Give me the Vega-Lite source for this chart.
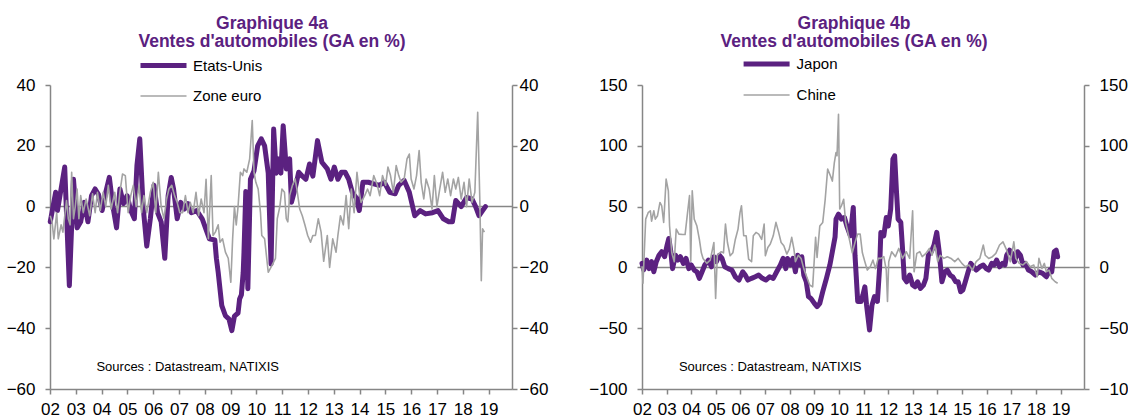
{
"$schema": "https://vega.github.io/schema/vega-lite/v6.json",
"padding": {"left": 6, "top": 15, "right": 0, "bottom": 0},
"bounds": "flush",
"spacing": 130,
"resolve": {"scale": {"color": "independent", "strokeWidth": "independent"}},
"datasets": {
"us": [
{"annee":2002.01,"valeur":-5,"serie":"Etats-Unis"},{"annee":2002.22,"valeur":4.7,"serie":"Etats-Unis"},{"annee":2002.29,"valeur":-1.3,"serie":"Etats-Unis"},{"annee":2002.57,"valeur":13,"serie":"Etats-Unis"},{"annee":2002.75,"valeur":-26,"serie":"Etats-Unis"},{"annee":2002.91,"valeur":9,"serie":"Etats-Unis"},{"annee":2003.05,"valeur":-7,"serie":"Etats-Unis"},{"annee":2003.19,"valeur":-5,"serie":"Etats-Unis"},{"annee":2003.33,"valeur":1.4,"serie":"Etats-Unis"},{"annee":2003.47,"valeur":-5,"serie":"Etats-Unis"},{"annee":2003.61,"valeur":3.6,"serie":"Etats-Unis"},{"annee":2003.75,"valeur":5.8,"serie":"Etats-Unis"},{"annee":2003.88,"valeur":4,"serie":"Etats-Unis"},{"annee":2004.02,"valeur":-1.3,"serie":"Etats-Unis"},{"annee":2004.16,"valeur":4.7,"serie":"Etats-Unis"},{"annee":2004.30,"valeur":9.6,"serie":"Etats-Unis"},{"annee":2004.44,"valeur":0,"serie":"Etats-Unis"},{"annee":2004.58,"valeur":-7,"serie":"Etats-Unis"},{"annee":2004.71,"valeur":5.8,"serie":"Etats-Unis"},{"annee":2004.85,"valeur":1,"serie":"Etats-Unis"},{"annee":2004.99,"valeur":3.6,"serie":"Etats-Unis"},{"annee":2005.13,"valeur":-1.3,"serie":"Etats-Unis"},{"annee":2005.27,"valeur":-4,"serie":"Etats-Unis"},{"annee":2005.37,"valeur":13.5,"serie":"Etats-Unis"},{"annee":2005.48,"valeur":22.3,"serie":"Etats-Unis"},{"annee":2005.61,"valeur":0,"serie":"Etats-Unis"},{"annee":2005.75,"valeur":-13,"serie":"Etats-Unis"},{"annee":2005.89,"valeur":-4,"serie":"Etats-Unis"},{"annee":2006.03,"valeur":7,"serie":"Etats-Unis"},{"annee":2006.17,"valeur":-2,"serie":"Etats-Unis"},{"annee":2006.31,"valeur":-5,"serie":"Etats-Unis"},{"annee":2006.45,"valeur":-17,"serie":"Etats-Unis"},{"annee":2006.58,"valeur":3.6,"serie":"Etats-Unis"},{"annee":2006.70,"valeur":9.6,"serie":"Etats-Unis"},{"annee":2006.79,"valeur":5.8,"serie":"Etats-Unis"},{"annee":2006.93,"valeur":-4,"serie":"Etats-Unis"},{"annee":2007.07,"valeur":1.4,"serie":"Etats-Unis"},{"annee":2007.21,"valeur":-0.8,"serie":"Etats-Unis"},{"annee":2007.35,"valeur":1,"serie":"Etats-Unis"},{"annee":2007.48,"valeur":-2,"serie":"Etats-Unis"},{"annee":2007.69,"valeur":-1.3,"serie":"Etats-Unis"},{"annee":2007.90,"valeur":-4,"serie":"Etats-Unis"},{"annee":2008.04,"valeur":-7.3,"serie":"Etats-Unis"},{"annee":2008.18,"valeur":-10.6,"serie":"Etats-Unis"},{"annee":2008.39,"valeur":-11,"serie":"Etats-Unis"},{"annee":2008.45,"valeur":-17,"serie":"Etats-Unis"},{"annee":2008.52,"valeur":-21.6,"serie":"Etats-Unis"},{"annee":2008.66,"valeur":-32.6,"serie":"Etats-Unis"},{"annee":2008.80,"valeur":-35.9,"serie":"Etats-Unis"},{"annee":2008.94,"valeur":-37,"serie":"Etats-Unis"},{"annee":2009.05,"valeur":-40.8,"serie":"Etats-Unis"},{"annee":2009.15,"valeur":-36,"serie":"Etats-Unis"},{"annee":2009.29,"valeur":-35,"serie":"Etats-Unis"},{"annee":2009.35,"valeur":-30.4,"serie":"Etats-Unis"},{"annee":2009.42,"valeur":-29,"serie":"Etats-Unis"},{"annee":2009.49,"valeur":-21.6,"serie":"Etats-Unis"},{"annee":2009.52,"valeur":-15,"serie":"Etats-Unis"},{"annee":2009.59,"valeur":5,"serie":"Etats-Unis"},{"annee":2009.67,"valeur":-27,"serie":"Etats-Unis"},{"annee":2009.77,"valeur":9,"serie":"Etats-Unis"},{"annee":2009.91,"valeur":11.8,"serie":"Etats-Unis"},{"annee":2010.05,"valeur":20,"serie":"Etats-Unis"},{"annee":2010.19,"valeur":22.3,"serie":"Etats-Unis"},{"annee":2010.32,"valeur":20,"serie":"Etats-Unis"},{"annee":2010.46,"valeur":11,"serie":"Etats-Unis"},{"annee":2010.57,"valeur":-18.9,"serie":"Etats-Unis"},{"annee":2010.67,"valeur":25.5,"serie":"Etats-Unis"},{"annee":2010.77,"valeur":11,"serie":"Etats-Unis"},{"annee":2010.85,"valeur":15.7,"serie":"Etats-Unis"},{"annee":2010.95,"valeur":11,"serie":"Etats-Unis"},{"annee":2011.04,"valeur":26.6,"serie":"Etats-Unis"},{"annee":2011.16,"valeur":12.4,"serie":"Etats-Unis"},{"annee":2011.29,"valeur":15.7,"serie":"Etats-Unis"},{"annee":2011.36,"valeur":1.4,"serie":"Etats-Unis"},{"annee":2011.50,"valeur":5.8,"serie":"Etats-Unis"},{"annee":2011.64,"valeur":11.3,"serie":"Etats-Unis"},{"annee":2011.78,"valeur":10,"serie":"Etats-Unis"},{"annee":2011.92,"valeur":9,"serie":"Etats-Unis"},{"annee":2012.06,"valeur":14,"serie":"Etats-Unis"},{"annee":2012.19,"valeur":10,"serie":"Etats-Unis"},{"annee":2012.37,"valeur":21.7,"serie":"Etats-Unis"},{"annee":2012.54,"valeur":14.6,"serie":"Etats-Unis"},{"annee":2012.75,"valeur":12.4,"serie":"Etats-Unis"},{"annee":2012.89,"valeur":9,"serie":"Etats-Unis"},{"annee":2013.02,"valeur":13,"serie":"Etats-Unis"},{"annee":2013.16,"valeur":9,"serie":"Etats-Unis"},{"annee":2013.30,"valeur":11.3,"serie":"Etats-Unis"},{"annee":2013.44,"valeur":11.3,"serie":"Etats-Unis"},{"annee":2013.58,"valeur":9,"serie":"Etats-Unis"},{"annee":2013.72,"valeur":4.7,"serie":"Etats-Unis"},{"annee":2013.86,"valeur":3,"serie":"Etats-Unis"},{"annee":2013.99,"valeur":-1.3,"serie":"Etats-Unis"},{"annee":2014.13,"valeur":8,"serie":"Etats-Unis"},{"annee":2014.34,"valeur":8,"serie":"Etats-Unis"},{"annee":2014.55,"valeur":7.5,"serie":"Etats-Unis"},{"annee":2014.76,"valeur":7,"serie":"Etats-Unis"},{"annee":2014.96,"valeur":8,"serie":"Etats-Unis"},{"annee":2015.17,"valeur":4.7,"serie":"Etats-Unis"},{"annee":2015.38,"valeur":4.2,"serie":"Etats-Unis"},{"annee":2015.52,"valeur":7,"serie":"Etats-Unis"},{"annee":2015.73,"valeur":8.6,"serie":"Etats-Unis"},{"annee":2015.93,"valeur":4.7,"serie":"Etats-Unis"},{"annee":2016.14,"valeur":-3,"serie":"Etats-Unis"},{"annee":2016.35,"valeur":-1.3,"serie":"Etats-Unis"},{"annee":2016.56,"valeur":-2.4,"serie":"Etats-Unis"},{"annee":2016.83,"valeur":-2,"serie":"Etats-Unis"},{"annee":2017.04,"valeur":-1.3,"serie":"Etats-Unis"},{"annee":2017.25,"valeur":-4,"serie":"Etats-Unis"},{"annee":2017.46,"valeur":-5,"serie":"Etats-Unis"},{"annee":2017.60,"valeur":-5,"serie":"Etats-Unis"},{"annee":2017.73,"valeur":2,"serie":"Etats-Unis"},{"annee":2017.94,"valeur":0,"serie":"Etats-Unis"},{"annee":2018.15,"valeur":3,"serie":"Etats-Unis"},{"annee":2018.36,"valeur":2.5,"serie":"Etats-Unis"},{"annee":2018.50,"valeur":0,"serie":"Etats-Unis"},{"annee":2018.63,"valeur":-3,"serie":"Etats-Unis"},{"annee":2018.77,"valeur":-1.3,"serie":"Etats-Unis"},{"annee":2018.88,"valeur":0,"serie":"Etats-Unis"}
],
"ze": [
{"annee":2002.01,"valeur":-3,"serie":"Zone euro"},{"annee":2002.08,"valeur":-5,"serie":"Zone euro"},{"annee":2002.15,"valeur":-10.6,"serie":"Zone euro"},{"annee":2002.26,"valeur":-2,"serie":"Zone euro"},{"annee":2002.32,"valeur":-10.6,"serie":"Zone euro"},{"annee":2002.43,"valeur":-6,"serie":"Zone euro"},{"annee":2002.50,"valeur":-8.4,"serie":"Zone euro"},{"annee":2002.64,"valeur":2,"serie":"Zone euro"},{"annee":2002.71,"valeur":-4,"serie":"Zone euro"},{"annee":2002.78,"valeur":-6,"serie":"Zone euro"},{"annee":2002.84,"valeur":11.3,"serie":"Zone euro"},{"annee":2002.91,"valeur":-4,"serie":"Zone euro"},{"annee":2002.98,"valeur":0,"serie":"Zone euro"},{"annee":2003.05,"valeur":5.8,"serie":"Zone euro"},{"annee":2003.12,"valeur":-4,"serie":"Zone euro"},{"annee":2003.19,"valeur":3.6,"serie":"Zone euro"},{"annee":2003.29,"valeur":-2,"serie":"Zone euro"},{"annee":2003.40,"valeur":2.5,"serie":"Zone euro"},{"annee":2003.54,"valeur":-3,"serie":"Zone euro"},{"annee":2003.65,"valeur":4.2,"serie":"Zone euro"},{"annee":2003.75,"valeur":-2,"serie":"Zone euro"},{"annee":2003.84,"valeur":4.7,"serie":"Zone euro"},{"annee":2003.95,"valeur":-1.3,"serie":"Zone euro"},{"annee":2004.06,"valeur":4.7,"serie":"Zone euro"},{"annee":2004.16,"valeur":0,"serie":"Zone euro"},{"annee":2004.26,"valeur":7,"serie":"Zone euro"},{"annee":2004.37,"valeur":-0.8,"serie":"Zone euro"},{"annee":2004.51,"valeur":4.7,"serie":"Zone euro"},{"annee":2004.62,"valeur":-2,"serie":"Zone euro"},{"annee":2004.71,"valeur":4.7,"serie":"Zone euro"},{"annee":2004.81,"valeur":10.7,"serie":"Zone euro"},{"annee":2004.92,"valeur":10.2,"serie":"Zone euro"},{"annee":2005.03,"valeur":-2,"serie":"Zone euro"},{"annee":2005.13,"valeur":3.6,"serie":"Zone euro"},{"annee":2005.23,"valeur":7,"serie":"Zone euro"},{"annee":2005.34,"valeur":0,"serie":"Zone euro"},{"annee":2005.45,"valeur":7,"serie":"Zone euro"},{"annee":2005.55,"valeur":-2,"serie":"Zone euro"},{"annee":2005.64,"valeur":3.6,"serie":"Zone euro"},{"annee":2005.75,"valeur":-2,"serie":"Zone euro"},{"annee":2005.89,"valeur":4.7,"serie":"Zone euro"},{"annee":2006.00,"valeur":8,"serie":"Zone euro"},{"annee":2006.10,"valeur":-2,"serie":"Zone euro"},{"annee":2006.20,"valeur":11.3,"serie":"Zone euro"},{"annee":2006.31,"valeur":0,"serie":"Zone euro"},{"annee":2006.42,"valeur":-4,"serie":"Zone euro"},{"annee":2006.52,"valeur":2.5,"serie":"Zone euro"},{"annee":2006.61,"valeur":5.8,"serie":"Zone euro"},{"annee":2006.72,"valeur":7,"serie":"Zone euro"},{"annee":2006.83,"valeur":3.6,"serie":"Zone euro"},{"annee":2006.93,"valeur":1.4,"serie":"Zone euro"},{"annee":2007.03,"valeur":-2,"serie":"Zone euro"},{"annee":2007.14,"valeur":-2,"serie":"Zone euro"},{"annee":2007.25,"valeur":3.6,"serie":"Zone euro"},{"annee":2007.35,"valeur":-2,"serie":"Zone euro"},{"annee":2007.44,"valeur":1.4,"serie":"Zone euro"},{"annee":2007.55,"valeur":-2,"serie":"Zone euro"},{"annee":2007.66,"valeur":4.7,"serie":"Zone euro"},{"annee":2007.76,"valeur":-3,"serie":"Zone euro"},{"annee":2007.86,"valeur":2.5,"serie":"Zone euro"},{"annee":2007.97,"valeur":-2,"serie":"Zone euro"},{"annee":2008.05,"valeur":9,"serie":"Zone euro"},{"annee":2008.14,"valeur":-10.6,"serie":"Zone euro"},{"annee":2008.25,"valeur":10.2,"serie":"Zone euro"},{"annee":2008.32,"valeur":-9.5,"serie":"Zone euro"},{"annee":2008.41,"valeur":-8.4,"serie":"Zone euro"},{"annee":2008.52,"valeur":-6,"serie":"Zone euro"},{"annee":2008.59,"valeur":-11.7,"serie":"Zone euro"},{"annee":2008.69,"valeur":-10.6,"serie":"Zone euro"},{"annee":2008.80,"valeur":-15,"serie":"Zone euro"},{"annee":2008.91,"valeur":-17,"serie":"Zone euro"},{"annee":2009.01,"valeur":-24.9,"serie":"Zone euro"},{"annee":2009.08,"valeur":-10.6,"serie":"Zone euro"},{"annee":2009.15,"valeur":0,"serie":"Zone euro"},{"annee":2009.22,"valeur":-6,"serie":"Zone euro"},{"annee":2009.29,"valeur":0,"serie":"Zone euro"},{"annee":2009.38,"valeur":11.3,"serie":"Zone euro"},{"annee":2009.47,"valeur":10.2,"serie":"Zone euro"},{"annee":2009.52,"valeur":12.4,"serie":"Zone euro"},{"annee":2009.63,"valeur":11.3,"serie":"Zone euro"},{"annee":2009.74,"valeur":15.7,"serie":"Zone euro"},{"annee":2009.84,"valeur":28.3,"serie":"Zone euro"},{"annee":2009.91,"valeur":11.3,"serie":"Zone euro"},{"annee":2009.98,"valeur":8,"serie":"Zone euro"},{"annee":2010.07,"valeur":5.8,"serie":"Zone euro"},{"annee":2010.16,"valeur":-2,"serie":"Zone euro"},{"annee":2010.21,"valeur":-9.5,"serie":"Zone euro"},{"annee":2010.32,"valeur":-10.6,"serie":"Zone euro"},{"annee":2010.46,"valeur":-21.6,"serie":"Zone euro"},{"annee":2010.60,"valeur":-19.4,"serie":"Zone euro"},{"annee":2010.74,"valeur":-17,"serie":"Zone euro"},{"annee":2010.81,"valeur":-4,"serie":"Zone euro"},{"annee":2010.91,"valeur":0,"serie":"Zone euro"},{"annee":2010.99,"valeur":5.8,"serie":"Zone euro"},{"annee":2011.09,"valeur":4.7,"serie":"Zone euro"},{"annee":2011.16,"valeur":-4,"serie":"Zone euro"},{"annee":2011.22,"valeur":-5,"serie":"Zone euro"},{"annee":2011.29,"valeur":3.6,"serie":"Zone euro"},{"annee":2011.40,"valeur":7,"serie":"Zone euro"},{"annee":2011.50,"valeur":9.1,"serie":"Zone euro"},{"annee":2011.57,"valeur":5.8,"serie":"Zone euro"},{"annee":2011.68,"valeur":-0.8,"serie":"Zone euro"},{"annee":2011.78,"valeur":-3,"serie":"Zone euro"},{"annee":2011.88,"valeur":-6,"serie":"Zone euro"},{"annee":2011.99,"valeur":-9.5,"serie":"Zone euro"},{"annee":2012.10,"valeur":-11.7,"serie":"Zone euro"},{"annee":2012.19,"valeur":-9.5,"serie":"Zone euro"},{"annee":2012.29,"valeur":-9.5,"serie":"Zone euro"},{"annee":2012.40,"valeur":-4,"serie":"Zone euro"},{"annee":2012.51,"valeur":-8.4,"serie":"Zone euro"},{"annee":2012.61,"valeur":-18,"serie":"Zone euro"},{"annee":2012.75,"valeur":-9.5,"serie":"Zone euro"},{"annee":2012.84,"valeur":-20,"serie":"Zone euro"},{"annee":2012.96,"valeur":-10.6,"serie":"Zone euro"},{"annee":2013.09,"valeur":-15,"serie":"Zone euro"},{"annee":2013.16,"valeur":-9.5,"serie":"Zone euro"},{"annee":2013.26,"valeur":-3,"serie":"Zone euro"},{"annee":2013.37,"valeur":-6,"serie":"Zone euro"},{"annee":2013.48,"valeur":3.6,"serie":"Zone euro"},{"annee":2013.58,"valeur":-7.3,"serie":"Zone euro"},{"annee":2013.68,"valeur":5.8,"serie":"Zone euro"},{"annee":2013.79,"valeur":-2,"serie":"Zone euro"},{"annee":2013.90,"valeur":11.3,"serie":"Zone euro"},{"annee":2013.99,"valeur":4.7,"serie":"Zone euro"},{"annee":2014.06,"valeur":1.4,"serie":"Zone euro"},{"annee":2014.20,"valeur":3.6,"serie":"Zone euro"},{"annee":2014.31,"valeur":5.8,"serie":"Zone euro"},{"annee":2014.41,"valeur":3.6,"serie":"Zone euro"},{"annee":2014.55,"valeur":10.2,"serie":"Zone euro"},{"annee":2014.69,"valeur":7,"serie":"Zone euro"},{"annee":2014.78,"valeur":3.6,"serie":"Zone euro"},{"annee":2014.89,"valeur":10.2,"serie":"Zone euro"},{"annee":2015.01,"valeur":7,"serie":"Zone euro"},{"annee":2015.10,"valeur":13,"serie":"Zone euro"},{"annee":2015.20,"valeur":10.2,"serie":"Zone euro"},{"annee":2015.31,"valeur":4.7,"serie":"Zone euro"},{"annee":2015.42,"valeur":13.5,"serie":"Zone euro"},{"annee":2015.52,"valeur":10.2,"serie":"Zone euro"},{"annee":2015.61,"valeur":8,"serie":"Zone euro"},{"annee":2015.73,"valeur":9.1,"serie":"Zone euro"},{"annee":2015.84,"valeur":15.7,"serie":"Zone euro"},{"annee":2015.93,"valeur":17.3,"serie":"Zone euro"},{"annee":2016.00,"valeur":9.1,"serie":"Zone euro"},{"annee":2016.11,"valeur":5.8,"serie":"Zone euro"},{"annee":2016.21,"valeur":10.2,"serie":"Zone euro"},{"annee":2016.31,"valeur":18.4,"serie":"Zone euro"},{"annee":2016.39,"valeur":8,"serie":"Zone euro"},{"annee":2016.49,"valeur":2.5,"serie":"Zone euro"},{"annee":2016.58,"valeur":9.1,"serie":"Zone euro"},{"annee":2016.70,"valeur":5.8,"serie":"Zone euro"},{"annee":2016.81,"valeur":-0.8,"serie":"Zone euro"},{"annee":2016.90,"valeur":10.2,"serie":"Zone euro"},{"annee":2017.00,"valeur":0,"serie":"Zone euro"},{"annee":2017.11,"valeur":5.8,"serie":"Zone euro"},{"annee":2017.22,"valeur":11.3,"serie":"Zone euro"},{"annee":2017.32,"valeur":4.7,"serie":"Zone euro"},{"annee":2017.42,"valeur":9.1,"serie":"Zone euro"},{"annee":2017.53,"valeur":3.6,"serie":"Zone euro"},{"annee":2017.64,"valeur":9.1,"serie":"Zone euro"},{"annee":2017.73,"valeur":5.8,"serie":"Zone euro"},{"annee":2017.83,"valeur":9.6,"serie":"Zone euro"},{"annee":2017.94,"valeur":2.5,"serie":"Zone euro"},{"annee":2018.05,"valeur":8,"serie":"Zone euro"},{"annee":2018.15,"valeur":0,"serie":"Zone euro"},{"annee":2018.25,"valeur":9.1,"serie":"Zone euro"},{"annee":2018.36,"valeur":1.4,"serie":"Zone euro"},{"annee":2018.47,"valeur":4.7,"serie":"Zone euro"},{"annee":2018.58,"valeur":31,"serie":"Zone euro"},{"annee":2018.66,"valeur":3,"serie":"Zone euro"},{"annee":2018.72,"valeur":-24.4,"serie":"Zone euro"},{"annee":2018.77,"valeur":-7.3,"serie":"Zone euro"},{"annee":2018.84,"valeur":-8.4,"serie":"Zone euro"}
],
"jp": [
{"annee":2002.00,"valeur":3.3,"serie":"Japon"},{"annee":2002.07,"valeur":-2,"serie":"Japon"},{"annee":2002.19,"valeur":6,"serie":"Japon"},{"annee":2002.29,"valeur":-1,"serie":"Japon"},{"annee":2002.39,"valeur":4.7,"serie":"Japon"},{"annee":2002.48,"valeur":-3.6,"serie":"Japon"},{"annee":2002.58,"valeur":4.7,"serie":"Japon"},{"annee":2002.69,"valeur":10,"serie":"Japon"},{"annee":2002.80,"valeur":12.9,"serie":"Japon"},{"annee":2002.92,"valeur":8.8,"serie":"Japon"},{"annee":2003.02,"valeur":18.4,"serie":"Japon"},{"annee":2003.09,"valeur":23.8,"serie":"Japon"},{"annee":2003.17,"valeur":12.9,"serie":"Japon"},{"annee":2003.24,"valeur":-1,"serie":"Japon"},{"annee":2003.36,"valeur":10,"serie":"Japon"},{"annee":2003.46,"valeur":6,"serie":"Japon"},{"annee":2003.56,"valeur":8.8,"serie":"Japon"},{"annee":2003.68,"valeur":3.3,"serie":"Japon"},{"annee":2003.79,"valeur":7.4,"serie":"Japon"},{"annee":2003.90,"valeur":-1,"serie":"Japon"},{"annee":2004.00,"valeur":2,"serie":"Japon"},{"annee":2004.12,"valeur":-2.2,"serie":"Japon"},{"annee":2004.23,"valeur":-3.6,"serie":"Japon"},{"annee":2004.33,"valeur":-9,"serie":"Japon"},{"annee":2004.44,"valeur":-3.6,"serie":"Japon"},{"annee":2004.55,"valeur":2,"serie":"Japon"},{"annee":2004.70,"valeur":6,"serie":"Japon"},{"annee":2004.82,"valeur":0.5,"serie":"Japon"},{"annee":2004.92,"valeur":8.8,"serie":"Japon"},{"annee":2005.02,"valeur":4.7,"serie":"Japon"},{"annee":2005.14,"valeur":10,"serie":"Japon"},{"annee":2005.25,"valeur":7.4,"serie":"Japon"},{"annee":2005.36,"valeur":0.5,"serie":"Japon"},{"annee":2005.50,"valeur":-1,"serie":"Japon"},{"annee":2005.65,"valeur":-2.2,"serie":"Japon"},{"annee":2005.79,"valeur":-7.7,"serie":"Japon"},{"annee":2005.94,"valeur":-10.4,"serie":"Japon"},{"annee":2006.09,"valeur":-3.6,"serie":"Japon"},{"annee":2006.19,"valeur":-6.3,"serie":"Japon"},{"annee":2006.30,"valeur":-10.4,"serie":"Japon"},{"annee":2006.45,"valeur":-9,"serie":"Japon"},{"annee":2006.60,"valeur":-7.7,"serie":"Japon"},{"annee":2006.74,"valeur":-6.3,"serie":"Japon"},{"annee":2006.89,"valeur":-9,"serie":"Japon"},{"annee":2007.03,"valeur":-10.4,"serie":"Japon"},{"annee":2007.18,"valeur":-7.7,"serie":"Japon"},{"annee":2007.33,"valeur":-9,"serie":"Japon"},{"annee":2007.47,"valeur":-3.6,"serie":"Japon"},{"annee":2007.62,"valeur":2,"serie":"Japon"},{"annee":2007.73,"valeur":7.4,"serie":"Japon"},{"annee":2007.84,"valeur":-1,"serie":"Japon"},{"annee":2007.91,"valeur":7.4,"serie":"Japon"},{"annee":2008.03,"valeur":2,"serie":"Japon"},{"annee":2008.13,"valeur":7.4,"serie":"Japon"},{"annee":2008.23,"valeur":-3.6,"serie":"Japon"},{"annee":2008.32,"valeur":10,"serie":"Japon"},{"annee":2008.42,"valeur":2,"serie":"Japon"},{"annee":2008.49,"valeur":8.8,"serie":"Japon"},{"annee":2008.57,"valeur":-6.3,"serie":"Japon"},{"annee":2008.67,"valeur":-11.8,"serie":"Japon"},{"annee":2008.76,"valeur":-24,"serie":"Japon"},{"annee":2008.86,"valeur":-25.5,"serie":"Japon"},{"annee":2009.00,"valeur":-29.6,"serie":"Japon"},{"annee":2009.11,"valeur":-32.3,"serie":"Japon"},{"annee":2009.22,"valeur":-29.6,"serie":"Japon"},{"annee":2009.34,"valeur":-20,"serie":"Japon"},{"annee":2009.49,"valeur":-9,"serie":"Japon"},{"annee":2009.63,"valeur":2,"serie":"Japon"},{"annee":2009.73,"valeur":12.9,"serie":"Japon"},{"annee":2009.84,"valeur":25,"serie":"Japon"},{"annee":2009.88,"valeur":39.7,"serie":"Japon"},{"annee":2009.98,"valeur":43.8,"serie":"Japon"},{"annee":2010.10,"valeur":39.7,"serie":"Japon"},{"annee":2010.22,"valeur":41,"serie":"Japon"},{"annee":2010.32,"valeur":34,"serie":"Japon"},{"annee":2010.46,"valeur":26,"serie":"Japon"},{"annee":2010.58,"valeur":49.3,"serie":"Japon"},{"annee":2010.65,"valeur":10,"serie":"Japon"},{"annee":2010.76,"valeur":-28,"serie":"Japon"},{"annee":2010.90,"valeur":-28,"serie":"Japon"},{"annee":2010.97,"valeur":-22.7,"serie":"Japon"},{"annee":2011.05,"valeur":-16,"serie":"Japon"},{"annee":2011.12,"valeur":-31,"serie":"Japon"},{"annee":2011.24,"valeur":-51.5,"serie":"Japon"},{"annee":2011.34,"valeur":-31,"serie":"Japon"},{"annee":2011.44,"valeur":-24,"serie":"Japon"},{"annee":2011.56,"valeur":-28,"serie":"Japon"},{"annee":2011.65,"valeur":0,"serie":"Japon"},{"annee":2011.70,"valeur":28.8,"serie":"Japon"},{"annee":2011.82,"valeur":26,"serie":"Japon"},{"annee":2011.92,"valeur":41,"serie":"Japon"},{"annee":2012.00,"valeur":34,"serie":"Japon"},{"annee":2012.10,"valeur":48,"serie":"Japon"},{"annee":2012.19,"valeur":89,"serie":"Japon"},{"annee":2012.26,"valeur":91.8,"serie":"Japon"},{"annee":2012.33,"valeur":64,"serie":"Japon"},{"annee":2012.40,"valeur":39.7,"serie":"Japon"},{"annee":2012.51,"valeur":37,"serie":"Japon"},{"annee":2012.58,"valeur":15.6,"serie":"Japon"},{"annee":2012.65,"valeur":-9,"serie":"Japon"},{"annee":2012.75,"valeur":-11.8,"serie":"Japon"},{"annee":2012.87,"valeur":-6.3,"serie":"Japon"},{"annee":2012.99,"valeur":-14.5,"serie":"Japon"},{"annee":2013.09,"valeur":-16,"serie":"Japon"},{"annee":2013.19,"valeur":-11.8,"serie":"Japon"},{"annee":2013.31,"valeur":-17.3,"serie":"Japon"},{"annee":2013.43,"valeur":-14.5,"serie":"Japon"},{"annee":2013.53,"valeur":-9,"serie":"Japon"},{"annee":2013.63,"valeur":10,"serie":"Japon"},{"annee":2013.75,"valeur":12.9,"serie":"Japon"},{"annee":2013.86,"valeur":18.4,"serie":"Japon"},{"annee":2013.97,"valeur":28.8,"serie":"Japon"},{"annee":2014.07,"valeur":12.9,"serie":"Japon"},{"annee":2014.18,"valeur":-11.8,"serie":"Japon"},{"annee":2014.30,"valeur":-3.6,"serie":"Japon"},{"annee":2014.40,"valeur":-2.2,"serie":"Japon"},{"annee":2014.51,"valeur":-6.3,"serie":"Japon"},{"annee":2014.62,"valeur":-7.7,"serie":"Japon"},{"annee":2014.74,"valeur":-11.8,"serie":"Japon"},{"annee":2014.84,"valeur":-11.8,"serie":"Japon"},{"annee":2014.94,"valeur":-20,"serie":"Japon"},{"annee":2015.03,"valeur":-18.6,"serie":"Japon"},{"annee":2015.13,"valeur":-11.8,"serie":"Japon"},{"annee":2015.24,"valeur":-4,"serie":"Japon"},{"annee":2015.35,"valeur":3.3,"serie":"Japon"},{"annee":2015.47,"valeur":0.5,"serie":"Japon"},{"annee":2015.57,"valeur":-2.2,"serie":"Japon"},{"annee":2015.72,"valeur":0.5,"serie":"Japon"},{"annee":2015.86,"valeur":2,"serie":"Japon"},{"annee":2015.98,"valeur":-1,"serie":"Japon"},{"annee":2016.08,"valeur":-2.2,"serie":"Japon"},{"annee":2016.20,"valeur":3.3,"serie":"Japon"},{"annee":2016.30,"valeur":2,"serie":"Japon"},{"annee":2016.40,"valeur":6,"serie":"Japon"},{"annee":2016.52,"valeur":0.5,"serie":"Japon"},{"annee":2016.64,"valeur":3.3,"serie":"Japon"},{"annee":2016.74,"valeur":2,"serie":"Japon"},{"annee":2016.81,"valeur":10,"serie":"Japon"},{"annee":2016.93,"valeur":14.2,"serie":"Japon"},{"annee":2017.03,"valeur":11.5,"serie":"Japon"},{"annee":2017.13,"valeur":4.7,"serie":"Japon"},{"annee":2017.25,"valeur":12.9,"serie":"Japon"},{"annee":2017.37,"valeur":10,"serie":"Japon"},{"annee":2017.47,"valeur":2,"serie":"Japon"},{"annee":2017.57,"valeur":3.3,"serie":"Japon"},{"annee":2017.69,"valeur":-2.2,"serie":"Japon"},{"annee":2017.83,"valeur":-3.6,"serie":"Japon"},{"annee":2017.98,"valeur":-6.3,"serie":"Japon"},{"annee":2018.12,"valeur":-3.6,"serie":"Japon"},{"annee":2018.27,"valeur":-4.9,"serie":"Japon"},{"annee":2018.42,"valeur":-7.7,"serie":"Japon"},{"annee":2018.56,"valeur":-2.2,"serie":"Japon"},{"annee":2018.64,"valeur":-3.6,"serie":"Japon"},{"annee":2018.74,"valeur":12.9,"serie":"Japon"},{"annee":2018.82,"valeur":14.2,"serie":"Japon"},{"annee":2018.88,"valeur":8.8,"serie":"Japon"}
],
"cn": [
{"annee":2002.00,"valeur":1,"serie":"Chine"},{"annee":2002.04,"valeur":-13,"serie":"Chine"},{"annee":2002.15,"valeur":39.7,"serie":"Chine"},{"annee":2002.25,"valeur":45,"serie":"Chine"},{"annee":2002.34,"valeur":46.6,"serie":"Chine"},{"annee":2002.39,"valeur":38,"serie":"Chine"},{"annee":2002.48,"valeur":46.6,"serie":"Chine"},{"annee":2002.54,"valeur":39.7,"serie":"Chine"},{"annee":2002.63,"valeur":42.5,"serie":"Chine"},{"annee":2002.73,"valeur":53.4,"serie":"Chine"},{"annee":2002.80,"valeur":50.7,"serie":"Chine"},{"annee":2002.88,"valeur":37,"serie":"Chine"},{"annee":2002.98,"valeur":72.6,"serie":"Chine"},{"annee":2003.07,"valeur":63,"serie":"Chine"},{"annee":2003.12,"valeur":34,"serie":"Chine"},{"annee":2003.21,"valeur":12,"serie":"Chine"},{"annee":2003.31,"valeur":4.7,"serie":"Chine"},{"annee":2003.39,"valeur":31.5,"serie":"Chine"},{"annee":2003.50,"valeur":27.4,"serie":"Chine"},{"annee":2003.65,"valeur":27,"serie":"Chine"},{"annee":2003.75,"valeur":27,"serie":"Chine"},{"annee":2003.85,"valeur":45,"serie":"Chine"},{"annee":2003.93,"valeur":59,"serie":"Chine"},{"annee":2003.98,"valeur":5,"serie":"Chine"},{"annee":2004.04,"valeur":63,"serie":"Chine"},{"annee":2004.12,"valeur":39.7,"serie":"Chine"},{"annee":2004.23,"valeur":34,"serie":"Chine"},{"annee":2004.33,"valeur":23,"serie":"Chine"},{"annee":2004.41,"valeur":12,"serie":"Chine"},{"annee":2004.48,"valeur":7.4,"serie":"Chine"},{"annee":2004.63,"valeur":3.3,"serie":"Chine"},{"annee":2004.77,"valeur":6,"serie":"Chine"},{"annee":2004.92,"valeur":20.5,"serie":"Chine"},{"annee":2004.99,"valeur":-25.5,"serie":"Chine"},{"annee":2005.06,"valeur":10,"serie":"Chine"},{"annee":2005.21,"valeur":12.9,"serie":"Chine"},{"annee":2005.31,"valeur":12,"serie":"Chine"},{"annee":2005.39,"valeur":35.6,"serie":"Chine"},{"annee":2005.47,"valeur":20.5,"serie":"Chine"},{"annee":2005.58,"valeur":9.6,"serie":"Chine"},{"annee":2005.69,"valeur":12,"serie":"Chine"},{"annee":2005.79,"valeur":23,"serie":"Chine"},{"annee":2005.90,"valeur":31.5,"serie":"Chine"},{"annee":2005.98,"valeur":45,"serie":"Chine"},{"annee":2006.04,"valeur":50.7,"serie":"Chine"},{"annee":2006.13,"valeur":26,"serie":"Chine"},{"annee":2006.23,"valeur":26,"serie":"Chine"},{"annee":2006.33,"valeur":6.8,"serie":"Chine"},{"annee":2006.45,"valeur":4.7,"serie":"Chine"},{"annee":2006.52,"valeur":26,"serie":"Chine"},{"annee":2006.63,"valeur":28.8,"serie":"Chine"},{"annee":2006.74,"valeur":27.4,"serie":"Chine"},{"annee":2006.86,"valeur":23,"serie":"Chine"},{"annee":2006.96,"valeur":35.6,"serie":"Chine"},{"annee":2007.01,"valeur":9.6,"serie":"Chine"},{"annee":2007.11,"valeur":16.4,"serie":"Chine"},{"annee":2007.21,"valeur":19.2,"serie":"Chine"},{"annee":2007.33,"valeur":26,"serie":"Chine"},{"annee":2007.44,"valeur":37,"serie":"Chine"},{"annee":2007.55,"valeur":28.8,"serie":"Chine"},{"annee":2007.65,"valeur":20.5,"serie":"Chine"},{"annee":2007.76,"valeur":17.8,"serie":"Chine"},{"annee":2007.88,"valeur":11,"serie":"Chine"},{"annee":2007.98,"valeur":15,"serie":"Chine"},{"annee":2008.08,"valeur":24.7,"serie":"Chine"},{"annee":2008.17,"valeur":15,"serie":"Chine"},{"annee":2008.23,"valeur":4.7,"serie":"Chine"},{"annee":2008.35,"valeur":10,"serie":"Chine"},{"annee":2008.46,"valeur":7.4,"serie":"Chine"},{"annee":2008.57,"valeur":-1,"serie":"Chine"},{"annee":2008.71,"valeur":-9,"serie":"Chine"},{"annee":2008.81,"valeur":-14.5,"serie":"Chine"},{"annee":2008.93,"valeur":-16,"serie":"Chine"},{"annee":2009.05,"valeur":24.7,"serie":"Chine"},{"annee":2009.11,"valeur":8.2,"serie":"Chine"},{"annee":2009.22,"valeur":34,"serie":"Chine"},{"annee":2009.34,"valeur":37,"serie":"Chine"},{"annee":2009.44,"valeur":56,"serie":"Chine"},{"annee":2009.54,"valeur":80.8,"serie":"Chine"},{"annee":2009.66,"valeur":75,"serie":"Chine"},{"annee":2009.73,"valeur":71,"serie":"Chine"},{"annee":2009.81,"valeur":86,"serie":"Chine"},{"annee":2009.88,"valeur":94.5,"serie":"Chine"},{"annee":2009.92,"valeur":91.8,"serie":"Chine"},{"annee":2009.98,"valeur":126,"serie":"Chine"},{"annee":2010.03,"valeur":48,"serie":"Chine"},{"annee":2010.10,"valeur":50.7,"serie":"Chine"},{"annee":2010.19,"valeur":56,"serie":"Chine"},{"annee":2010.27,"valeur":37,"serie":"Chine"},{"annee":2010.39,"valeur":26,"serie":"Chine"},{"annee":2010.54,"valeur":12,"serie":"Chine"},{"annee":2010.65,"valeur":20.5,"serie":"Chine"},{"annee":2010.76,"valeur":27.4,"serie":"Chine"},{"annee":2010.86,"valeur":27.4,"serie":"Chine"},{"annee":2010.95,"valeur":12,"serie":"Chine"},{"annee":2011.05,"valeur":4.7,"serie":"Chine"},{"annee":2011.15,"valeur":-2.2,"serie":"Chine"},{"annee":2011.27,"valeur":0.5,"serie":"Chine"},{"annee":2011.38,"valeur":6,"serie":"Chine"},{"annee":2011.48,"valeur":-1,"serie":"Chine"},{"annee":2011.59,"valeur":7.4,"serie":"Chine"},{"annee":2011.70,"valeur":7.4,"serie":"Chine"},{"annee":2011.82,"valeur":8.8,"serie":"Chine"},{"annee":2011.92,"valeur":-2.2,"serie":"Chine"},{"annee":2011.97,"valeur":-28,"serie":"Chine"},{"annee":2012.02,"valeur":4.7,"serie":"Chine"},{"annee":2012.14,"valeur":12.9,"serie":"Chine"},{"annee":2012.29,"valeur":8.8,"serie":"Chine"},{"annee":2012.43,"valeur":15.6,"serie":"Chine"},{"annee":2012.58,"valeur":7.4,"serie":"Chine"},{"annee":2012.73,"valeur":12.9,"serie":"Chine"},{"annee":2012.87,"valeur":7.4,"serie":"Chine"},{"annee":2012.99,"valeur":46.6,"serie":"Chine"},{"annee":2013.05,"valeur":-3.6,"serie":"Chine"},{"annee":2013.16,"valeur":11.5,"serie":"Chine"},{"annee":2013.28,"valeur":12.9,"serie":"Chine"},{"annee":2013.38,"valeur":8.8,"serie":"Chine"},{"annee":2013.53,"valeur":11.5,"serie":"Chine"},{"annee":2013.67,"valeur":15.6,"serie":"Chine"},{"annee":2013.78,"valeur":10,"serie":"Chine"},{"annee":2013.89,"valeur":18.4,"serie":"Chine"},{"annee":2014.01,"valeur":4.7,"serie":"Chine"},{"annee":2014.11,"valeur":10,"serie":"Chine"},{"annee":2014.26,"valeur":7.4,"serie":"Chine"},{"annee":2014.40,"valeur":8.8,"serie":"Chine"},{"annee":2014.55,"valeur":7.4,"serie":"Chine"},{"annee":2014.70,"valeur":4.7,"serie":"Chine"},{"annee":2014.84,"valeur":7.4,"serie":"Chine"},{"annee":2014.99,"valeur":3.3,"serie":"Chine"},{"annee":2015.13,"valeur":0.5,"serie":"Chine"},{"annee":2015.28,"valeur":2,"serie":"Chine"},{"annee":2015.42,"valeur":-2.2,"serie":"Chine"},{"annee":2015.57,"valeur":4.7,"serie":"Chine"},{"annee":2015.72,"valeur":7.4,"serie":"Chine"},{"annee":2015.86,"valeur":18.4,"serie":"Chine"},{"annee":2015.94,"valeur":10,"serie":"Chine"},{"annee":2016.08,"valeur":7.4,"serie":"Chine"},{"annee":2016.23,"valeur":8.8,"serie":"Chine"},{"annee":2016.37,"valeur":11.5,"serie":"Chine"},{"annee":2016.52,"valeur":18.4,"serie":"Chine"},{"annee":2016.66,"valeur":21,"serie":"Chine"},{"annee":2016.81,"valeur":14.2,"serie":"Chine"},{"annee":2016.96,"valeur":4.7,"serie":"Chine"},{"annee":2017.10,"valeur":21,"serie":"Chine"},{"annee":2017.18,"valeur":7.4,"serie":"Chine"},{"annee":2017.32,"valeur":3.3,"serie":"Chine"},{"annee":2017.47,"valeur":2,"serie":"Chine"},{"annee":2017.61,"valeur":4.7,"serie":"Chine"},{"annee":2017.76,"valeur":0.5,"serie":"Chine"},{"annee":2017.91,"valeur":2,"serie":"Chine"},{"annee":2018.05,"valeur":-7.7,"serie":"Chine"},{"annee":2018.12,"valeur":7.4,"serie":"Chine"},{"annee":2018.24,"valeur":-1,"serie":"Chine"},{"annee":2018.34,"valeur":3.3,"serie":"Chine"},{"annee":2018.42,"valeur":-3.6,"serie":"Chine"},{"annee":2018.53,"valeur":-2.2,"serie":"Chine"},{"annee":2018.64,"valeur":-9,"serie":"Chine"},{"annee":2018.78,"valeur":-11.8,"serie":"Chine"},{"annee":2018.88,"valeur":-13,"serie":"Chine"}
]
},
"hconcat": [
{
"width": 462, "height": 304,
"title": {"text": ["Graphique 4a", "Ventes d'automobiles (GA en %)"], "dx": -9, "offset": 1},
"resolve": {"scale": {"y": "independent"}},
"layer": [
{"data": {"values": [{}]}, "mark": {"type": "rule", "color": "#868686", "strokeWidth": 1.5},
 "encoding": {"y": {"datum": 0, "type": "quantitative", "scale": {"domain": [-60, 40], "nice": false, "zero": false}, "axis": {"orient": "right", "values": [-60, -40, -20, 0, 20, 40], "labelPadding": 2}}}},
{"data": {"name": "us"}, "mark": {"type": "line", "strokeJoin": "round", "strokeCap": "round"},
 "encoding": {
  "x": {"field": "annee", "type": "quantitative", "scale": {"domain": [2002, 2019.91], "nice": false, "zero": false}, "axis": {"values": [2002,2003,2004,2005,2006,2007,2008,2009,2010,2011,2012,2013,2014,2015,2016,2017,2018,2019], "labelExpr": "slice(format(datum.value, 'd'), 2)", "labelFlush": false, "labelOverlap": false, "labelPadding": 7}},
  "y": {"field": "valeur", "type": "quantitative", "scale": {"domain": [-60, 40], "nice": false, "zero": false}, "axis": {"orient": "left", "values": [-60, -40, -20, 0, 20, 40], "labelPadding": 10}},
  "color": {"field": "serie", "type": "nominal", "scale": {"domain": ["Etats-Unis", "Zone euro"], "range": ["#5B2180", "#A3A3A3"]}, "legend": {"orient": "none", "legendX": 99.5, "legendY": -33.5, "title": null, "symbolType": "M-2,0H2", "symbolSize": 529, "labelFont": "Liberation Sans", "labelFontSize": 15, "labelColor": "#000000", "rowPadding": 8, "labelOffset": 15.5, "padding": 0}},
  "strokeWidth": {"field": "serie", "type": "nominal", "scale": {"domain": ["Etats-Unis", "Zone euro"], "range": [5, 1.6]}, "legend": {"orient": "none", "legendX": 99.5, "legendY": -33.5, "title": null, "symbolType": "M-2,0H2", "symbolSize": 529, "labelFont": "Liberation Sans", "labelFontSize": 15, "labelColor": "#000000", "rowPadding": 8, "labelOffset": 15.5, "padding": 0}}
 }},
{"data": {"name": "ze"}, "mark": {"type": "line", "strokeJoin": "round"},
 "encoding": {
  "x": {"field": "annee", "type": "quantitative", "scale": {"domain": [2002, 2019.91], "nice": false, "zero": false}, "axis": {"values": [2002,2003,2004,2005,2006,2007,2008,2009,2010,2011,2012,2013,2014,2015,2016,2017,2018,2019], "labelExpr": "slice(format(datum.value, 'd'), 2)", "labelFlush": false, "labelOverlap": false, "labelPadding": 7}},
  "y": {"field": "valeur", "type": "quantitative", "scale": {"domain": [-60, 40], "nice": false, "zero": false}, "axis": null},
  "color": {"field": "serie", "type": "nominal"},
  "strokeWidth": {"field": "serie", "type": "nominal"}
 }},
{"data": {"values": [{"texte": "Sources : Datastream, NATIXIS"}]},
 "mark": {"type": "text", "align": "left", "baseline": "middle", "fontSize": 13, "font": "Liberation Sans", "color": "#000000"},
 "encoding": {
  "x": {"datum": 2003.8, "type": "quantitative", "scale": {"domain": [2002, 2019.91], "nice": false, "zero": false}, "axis": {"values": [2002,2003,2004,2005,2006,2007,2008,2009,2010,2011,2012,2013,2014,2015,2016,2017,2018,2019], "labelExpr": "slice(format(datum.value, 'd'), 2)", "labelFlush": false, "labelOverlap": false, "labelPadding": 7}},
  "y": {"datum": -52.7, "type": "quantitative", "scale": {"domain": [-60, 40], "nice": false, "zero": false}, "axis": null},
  "text": {"field": "texte"}
 }}
]
},
{
"width": 442, "height": 304,
"title": {"text": ["Graphique 4b", "Ventes d'automobiles (GA en %)"], "dx": -9, "offset": -0.5},
"resolve": {"scale": {"y": "independent"}},
"layer": [
{"data": {"values": [{}]}, "mark": {"type": "rule", "color": "#868686", "strokeWidth": 1.5},
 "encoding": {"y": {"datum": 0, "type": "quantitative", "scale": {"domain": [-100, 150], "nice": false, "zero": false}, "axis": {"orient": "right", "values": [-100, -50, 0, 50, 100, 150], "labelPadding": 10}}}},
{"data": {"name": "jp"}, "mark": {"type": "line", "strokeJoin": "round", "strokeCap": "round"},
 "encoding": {
  "x": {"field": "annee", "type": "quantitative", "scale": {"domain": [2002, 2019.95], "nice": false, "zero": false}, "axis": {"values": [2002,2003,2004,2005,2006,2007,2008,2009,2010,2011,2012,2013,2014,2015,2016,2017,2018,2019], "labelExpr": "slice(format(datum.value, 'd'), 2)", "labelFlush": false, "labelOverlap": false, "labelPadding": 7}},
  "y": {"field": "valeur", "type": "quantitative", "scale": {"domain": [-100, 150], "nice": false, "zero": false}, "axis": {"orient": "left", "values": [-100, -50, 0, 50, 100, 150], "labelPadding": 10}},
  "color": {"field": "serie", "type": "nominal", "scale": {"domain": ["Japon", "Chine"], "range": ["#5B2180", "#A3A3A3"]}, "legend": {"orient": "none", "legendX": 110.6, "legendY": -35, "title": null, "symbolType": "M-2,0H2", "symbolSize": 529, "labelFont": "Liberation Sans", "labelFontSize": 15, "labelColor": "#000000", "rowPadding": 8.5, "labelOffset": 16, "padding": 0}},
  "strokeWidth": {"field": "serie", "type": "nominal", "scale": {"domain": ["Japon", "Chine"], "range": [5, 1.6]}, "legend": {"orient": "none", "legendX": 110.6, "legendY": -35, "title": null, "symbolType": "M-2,0H2", "symbolSize": 529, "labelFont": "Liberation Sans", "labelFontSize": 15, "labelColor": "#000000", "rowPadding": 8.5, "labelOffset": 16, "padding": 0}}
 }},
{"data": {"name": "cn"}, "mark": {"type": "line", "strokeJoin": "round"},
 "encoding": {
  "x": {"field": "annee", "type": "quantitative", "scale": {"domain": [2002, 2019.95], "nice": false, "zero": false}, "axis": {"values": [2002,2003,2004,2005,2006,2007,2008,2009,2010,2011,2012,2013,2014,2015,2016,2017,2018,2019], "labelExpr": "slice(format(datum.value, 'd'), 2)", "labelFlush": false, "labelOverlap": false, "labelPadding": 7}},
  "y": {"field": "valeur", "type": "quantitative", "scale": {"domain": [-100, 150], "nice": false, "zero": false}, "axis": null},
  "color": {"field": "serie", "type": "nominal"},
  "strokeWidth": {"field": "serie", "type": "nominal"}
 }},
{"data": {"values": [{"texte": "Sources : Datastream, NATIXIS"}]},
 "mark": {"type": "text", "align": "left", "baseline": "middle", "fontSize": 13, "font": "Liberation Sans", "color": "#000000"},
 "encoding": {
  "x": {"datum": 2003.5, "type": "quantitative", "scale": {"domain": [2002, 2019.95], "nice": false, "zero": false}, "axis": {"values": [2002,2003,2004,2005,2006,2007,2008,2009,2010,2011,2012,2013,2014,2015,2016,2017,2018,2019], "labelExpr": "slice(format(datum.value, 'd'), 2)", "labelFlush": false, "labelOverlap": false, "labelPadding": 7}},
  "y": {"datum": -81.7, "type": "quantitative", "scale": {"domain": [-100, 150], "nice": false, "zero": false}, "axis": null},
  "text": {"field": "texte"}
 }}
]
}
],
"config": {
"view": {"stroke": null},
"font": "Liberation Sans",
"title": {"fontSize": 17.5, "fontWeight": "bold", "color": "#5B2180", "font": "Liberation Sans", "lineHeight": 18, "anchor": "middle", "frame": "group"},
"axis": {"domainColor": "#868686", "domainWidth": 1.5, "tickColor": "#868686", "tickWidth": 1.5, "tickSize": 5, "labelFont": "Liberation Sans", "labelFontSize": 17, "labelColor": "#000000", "grid": false, "title": null},
"axisX": {"labelOverlap": false, "labelFlush": false, "labelBound": false}
}
}
